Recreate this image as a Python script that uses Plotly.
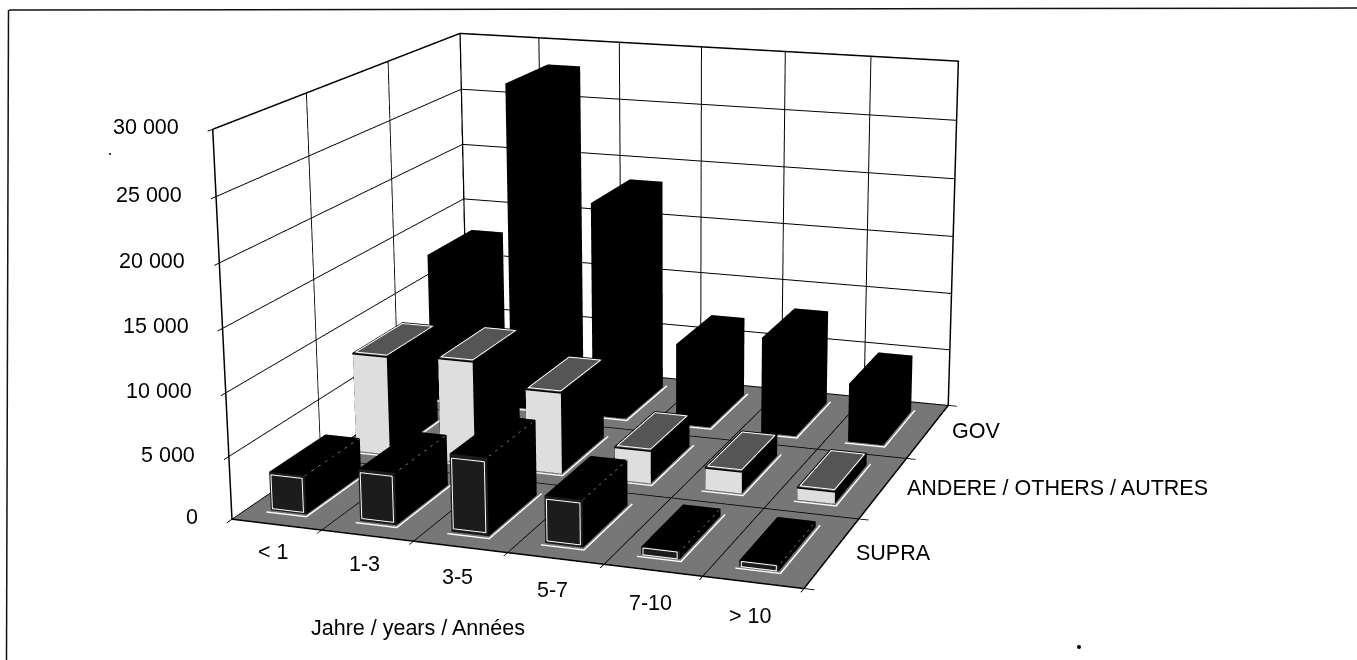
import numpy as np
import plotly.graph_objects as go

categories = ["< 1", "1-3", "3-5", "5-7", "7-10", "> 10"]
series_names = ["SUPRA", "ANDERE / OTHERS / AUTRES", "GOV"]
supra = [3100, 4150, 6150, 3700, 600, 450]
others = [8300, 8600, 6750, 2700, 1800, 1000]
gov = [12900, 28200, 18550, 7000, 8250, 5000]
z_ticks = [0, 5000, 10000, 15000, 20000, 25000, 30000]
z_labels = ["0", "5 000", "10 000", "15 000", "20 000", "25 000", "30 000"]
axis_title = "Jahre / years / Années"

WIN_W, WIN_H = 1357, 660
FIG_H = 2154          # taller page gives the long lens of the original
TOP_OFFSET = 747
FONT = dict(family="Liberation Sans, Arial, sans-serif", size=21.5, color="black")

def paper_x(px): return px / WIN_W
def paper_y(py): return 1 - (py + TOP_OFFSET) / FIG_H

BX0, BX1 = 0.25, 0.65
BY0, BY1 = 0.18, 0.82
ZTOP = z_ticks[-1]
NX, NY = len(categories), len(series_names)

STYLE = {
    "SUPRA": dict(front="#1c1c1c", top="#000000", side="#000000"),
    "ANDERE / OTHERS / AUTRES": dict(front="#dedede", top="#555555", side="#000000"),
    "GOV": dict(front="#000000", top="#000000", side="#000000"),
}

def add_box_mesh(fig, name, values, row):
    xs, ys, zs, I, J, K, colors = [], [], [], [], [], [], []
    st = STYLE[name]
    for c, h in enumerate(values):
        x0, x1, y0, y1 = c + BX0, c + BX1, row + BY0, row + BY1
        n = len(xs)
        xs += [x0, x1, x1, x0, x0, x1, x1, x0]
        ys += [y0, y0, y1, y1, y0, y0, y1, y1]
        zs += [0, 0, 0, 0, h, h, h, h]
        quads = [((0, 1, 5, 4), st["front"]), ((1, 2, 6, 5), st["side"]), ((4, 5, 6, 7), st["top"]),
                 ((3, 2, 6, 7), st["side"]), ((0, 3, 7, 4), st["side"])]
        for (a, b, d, e), col in quads:
            I += [n + a, n + a]; J += [n + b, n + d]; K += [n + d, n + e]
            colors += [col, col]
    fig.add_trace(go.Mesh3d(x=xs, y=ys, z=zs, i=I, j=J, k=K, facecolor=colors, flatshading=True,
                            lighting=dict(ambient=1, diffuse=0, specular=0, roughness=1, fresnel=0),
                            hoverinfo="skip", showscale=False, name=name))

def seg_trace(segs, color, width, dash="solid"):
    X, Y, Z = [], [], []
    for pts in segs:
        for p in pts:
            X.append(p[0]); Y.append(p[1]); Z.append(p[2])
        X.append(None); Y.append(None); Z.append(None)
    return go.Scatter3d(x=X, y=Y, z=Z, mode="lines", line=dict(color=color, width=width, dash=dash),
                        hoverinfo="skip", showlegend=False)

fig = go.Figure()
all_series = [supra, others, gov]
for r, (nm, vals) in enumerate(zip(series_names, all_series)):
    add_box_mesh(fig, nm, vals, r)

white_base, white_rim, black_rim, white_dash = [], [], [], []
eps = 0.006
for r, vals in enumerate(all_series):
    for c, h in enumerate(vals):
        x0, x1, y0, y1 = c + BX0, c + BX1, r + BY0, r + BY1
        # pale halo on the floor along the front and right of every bar
        white_base.append([(x0 - .02, y0 - .03, 0), (x1 + .03, y0 - .03, 0), (x1 + .03, y1 + .03, 0)])
        dz = min(0.06 * h, 300)
        dx = 0.025
        if r == 0:
            white_rim.append([(x0 + dx, y0 - eps, dz), (x1 - dx, y0 - eps, dz), (x1 - dx, y0 - eps, h - dz),
                              (x0 + dx, y0 - eps, h - dz), (x0 + dx, y0 - eps, dz)])
            white_dash.append([(x1, y0, h), (x1, y1, h)])
        if r == 1:
            black_rim.append([(x0, y0 - eps, h), (x1, y0 - eps, h), (x1, y1, h), (x0, y1, h), (x0, y0 - eps, h)])
            white_rim.append([(x0 + .015, y0 + .02, h + 40), (x1 - .015, y0 + .02, h + 40),
                              (x1 - .015, y1 - .02, h + 40), (x0 + .015, y1 - .02, h + 40),
                              (x0 + .015, y0 + .02, h + 40)])

fig.add_trace(seg_trace(white_base, "#ffffff", 3))
fig.add_trace(seg_trace(white_rim, "#ffffff", 2))
fig.add_trace(seg_trace(black_rim, "#000000", 3))
fig.add_trace(seg_trace(white_dash, "#ffffff", 1, "dash"))

wall = [[(0, 0, 0), (0, 0, ZTOP), (0, NY, ZTOP), (NX, NY, ZTOP), (NX, NY, 0)],
        [(0, NY, 0), (0, NY, ZTOP)],
        [(0, 0, 0), (NX, 0, 0), (NX, NY, 0)]]
fig.add_trace(seg_trace(wall, "#000000", 3))

annots = []
for c, lab in enumerate(categories):
    annots.append(dict(x=c + .5, y=0, z=0, text=lab, showarrow=False, xshift=-3, yshift=-27 - 1.4 * c, font=FONT))
for r, lab in enumerate(series_names):
    annots.append(dict(x=NX, y=r + .5, z=0, text=lab, showarrow=False, xanchor="left", xshift=22, font=FONT))
for v, lab in zip(z_ticks, z_labels):
    annots.append(dict(x=0, y=0, z=v, text=lab, showarrow=False, xanchor="right", xshift=-32, yshift=2, font=FONT))

def axis(vals, rng, bg=None):
    d = dict(range=rng, autorange=False, tickmode="array", tickvals=vals, showticklabels=False, title=dict(text=""),
             showgrid=True, gridcolor="#000000", gridwidth=2, zeroline=False, showline=False,
             ticks="outside", ticklen=8, tickcolor="#000000", tickwidth=2, showspikes=False,
             showbackground=True, backgroundcolor=bg or "#ffffff")
    return d

specks = [(110, 154, 1), (1079, 647, 2)]
shapes = [dict(type="line", xref="paper", yref="paper", x0=paper_x(9), x1=1, y0=paper_y(10), y1=paper_y(8),
               line=dict(color="#111111", width=1.5)),
          dict(type="line", xref="paper", yref="paper", x0=paper_x(8.5), x1=paper_x(6.5), y0=paper_y(10), y1=paper_y(660),
               line=dict(color="#111111", width=1.5))]
for sx, sy, sr in specks:
    shapes.append(dict(type="circle", xref="paper", yref="paper", x0=paper_x(sx - sr), x1=paper_x(sx + sr),
                       y0=paper_y(sy - sr), y1=paper_y(sy + sr), fillcolor="#000000", line=dict(width=0)))

fig.update_layout(
    width=WIN_W, height=FIG_H, autosize=False, margin=dict(l=0, r=0, t=0, b=0, pad=0),
    paper_bgcolor="#ffffff", showlegend=False,
    scene=dict(
        domain=dict(x=[0, 1], y=[0, 1]),
        xaxis=axis(list(range(NX + 1)), [0, NX]),
        yaxis=axis(list(range(NY + 1)), [0, NY]),
        zaxis=axis(z_ticks, [0, ZTOP], "#777777"),
        aspectmode="manual", aspectratio=dict(x=1.4984, y=1.5143, z=1.0),
        camera=dict(eye=dict(x=2.2852, y=-6.2605, z=1.7385), center=dict(x=0.1978, y=-0.039, z=-0.1111),
                    up=dict(x=-0.0088, y=0.0081, z=1), projection=dict(type="perspective")),
        annotations=annots,
    ),
    annotations=[dict(xref="paper", yref="paper", x=paper_x(418), y=paper_y(628), text=axis_title,
                      xanchor="center", yanchor="middle", showarrow=False, font=FONT)],
    shapes=shapes,
)
post = ("var gd=document.getElementById('{plot_id}');"
        "document.documentElement.style.overflow='hidden';document.body.style.overflow='hidden';"
        "document.body.style.margin='0';gd.style.position='fixed';gd.style.left='0';gd.style.top='-%dpx';" % TOP_OFFSET)
fig.write_html("out.html", post_script=post, config=dict(displayModeBar=False))
